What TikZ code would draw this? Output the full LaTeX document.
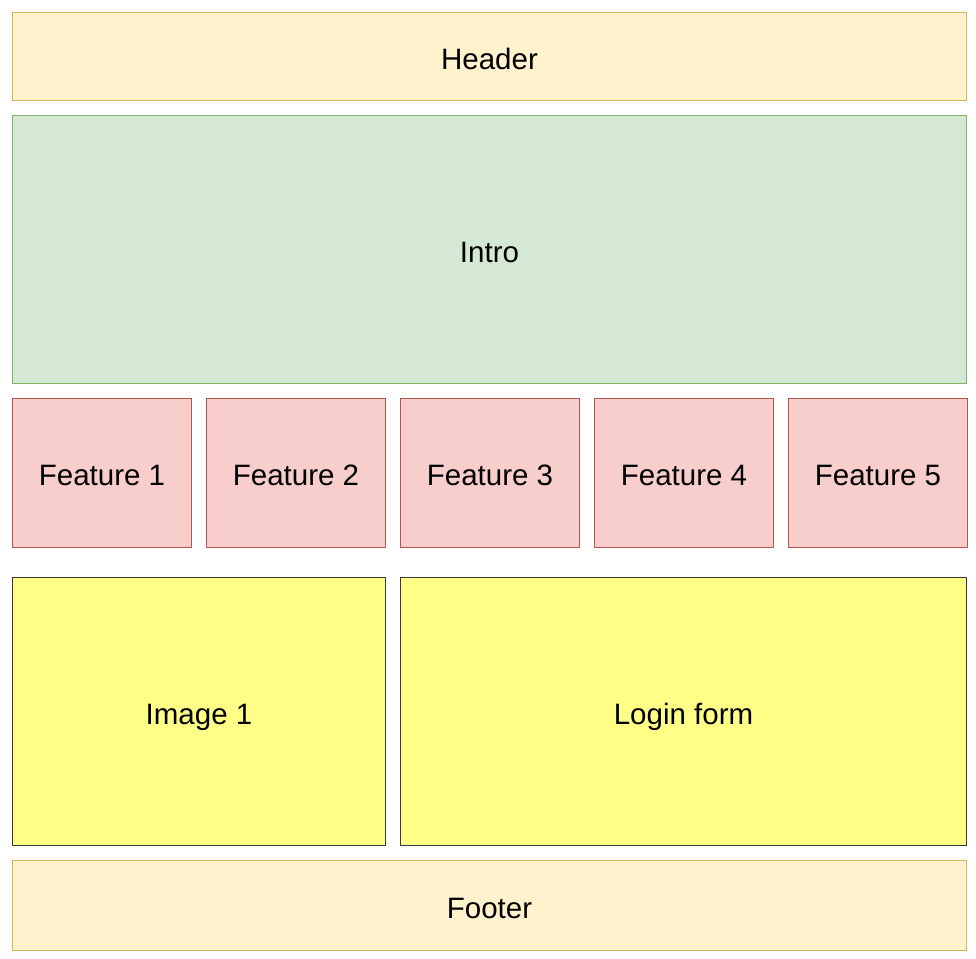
\documentclass[tikz,border=0pt]{standalone}
\usepackage{fontspec}
\setmainfont{Liberation Sans}
\definecolor{headfill}{HTML}{FFF2CC}
\definecolor{headline}{HTML}{D6B656}
\definecolor{introfill}{HTML}{D5E8D4}
\definecolor{introline}{HTML}{82B366}
\definecolor{featfill}{HTML}{F8CECC}
\definecolor{featline}{HTML}{B85450}
\definecolor{mainfill}{HTML}{FFFF88}
\definecolor{mainline}{HTML}{36393D}
\tikzset{
  block/.style={rectangle, anchor=north west, line width=1pt, inner sep=0pt,
    font=\fontsize{29.5}{34}\selectfont, text height=25pt, text depth=0pt},
  headbox/.style={block, fill=headfill, draw=headline},
  introbox/.style={block, fill=introfill, draw=introline},
  featbox/.style={block, fill=featfill, draw=featline},
  mainbox/.style={block, fill=mainfill, draw=mainline}
}
\begin{document}
\begin{tikzpicture}[x=1pt,y=-1pt]
			\useasboundingbox (0,0) rectangle (976,958);
			\def\boxw{954}
			\def\featw{179}

			\node[headbox, minimum width=\boxw pt, minimum height=88pt] (header) at (12,12) {Header};
			\node[introbox, minimum width=\boxw pt, minimum height=268pt] (intro) at (12,115) {Intro};

			\foreach \i in {1,...,5}{
				\node[featbox, minimum width=\featw pt, minimum height=149pt] (feat\i) at ({12+(\i-1)*194},398) {Feature \i};
			}

			\node[mainbox, minimum width=373pt, minimum height=268pt] (image1) at (12,577) {Image 1};
			\node[mainbox, minimum width=566pt, minimum height=268pt] (login) at (400,577) {Login form};
			\node[headbox, minimum width=\boxw pt, minimum height=90pt] (footer) at (12,860) {Footer};

		\end{tikzpicture}
\end{document}
